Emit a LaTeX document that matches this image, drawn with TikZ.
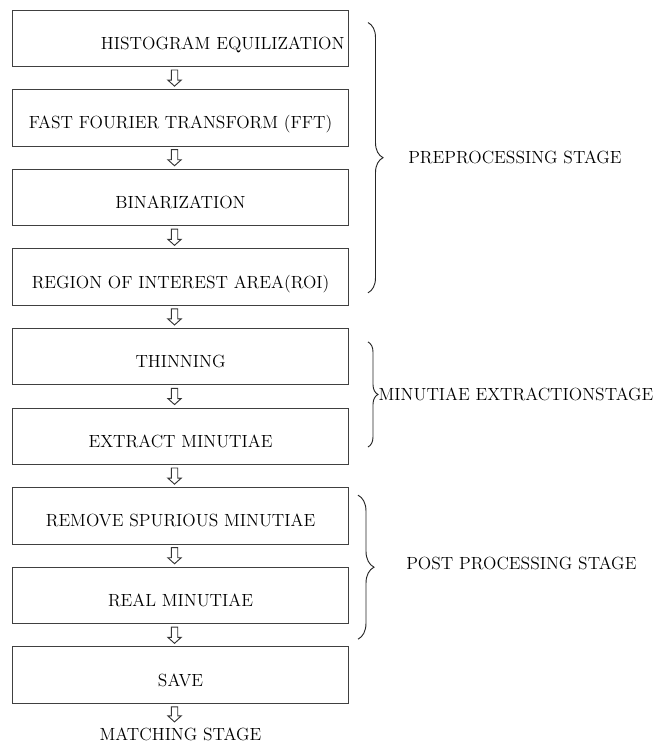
\documentclass[tikz,border=0pt]{standalone}
\usepackage{tikz}
\usetikzlibrary{positioning,calc,decorations.pathreplacing}
\tikzstyle{stage_box} = [draw=black!75,
						 line width=0.7pt,
						 minimum width=252pt,
						 minimum height=42.4pt,
						 text height=16.5pt,
						 text depth=0pt,
						 align=center,
						 font=\fontsize{13.2pt}{15pt}\selectfont]
\tikzstyle{stage_label} = [font=\fontsize{13.2pt}{15pt}\selectfont,
						   anchor=west,
						   inner sep=0pt]
\tikzstyle{stage_brace} = [draw=black!85,
						   line width=0.7pt,
						   decorate]
\tikzstyle{down_arrow} = [draw=black!80,
						  line width=0.7pt,
						  to path={let \p1=($(\tikztostart)+(-4.5pt,-2.25pt)$),
						               \p2=($(\tikztotarget)+(-4.5pt,2.25pt)$) in
						   (\x1-2.4pt,\y1) -- (\x1-2.4pt,\y2+4.5pt) -- (\x1-5pt,\y2+4.5pt)
						   -- (\x1,\y2) -- (\x1+5pt,\y2+4.5pt) -- (\x1+2.4pt,\y2+4.5pt)
						   -- (\x1+2.4pt,\y1) -- cycle}]

\begin{document}
\begin{tikzpicture}[node distance=16.6pt]
	\useasboundingbox (0,0) rectangle (500.25pt,-558pt);

	%%%%%%%%%%%%%%
	% PREPROCESS %
	%%%%%%%%%%%%%%
	\node[stage_box, text width=246pt, align=right, inner xsep=3pt] (hist) at (135.4pt,-28.7pt) {HISTOGRAM EQUILIZATION};
	\node[stage_box, below=of hist] (fft) {FAST FOURIER TRANSFORM (FFT)};
	\node[stage_box, below=of fft] (bin) {BINARIZATION};
	\node[stage_box, below=of bin] (roi) {REGION OF INTEREST AREA(ROI)};

	%%%%%%%%%%%%
	% MINUTIAE %
	%%%%%%%%%%%%
	\node[stage_box, below=of roi] (thin) {THINNING};
	\node[stage_box, below=of thin] (extract) {EXTRACT MINUTIAE};

	%%%%%%%%%%%%%%%%
	% POST PROCESS %
	%%%%%%%%%%%%%%%%
	\node[stage_box, below=of extract] (remove) {REMOVE SPURIOUS MINUTIAE};
	\node[stage_box, below=of remove] (real) {REAL MINUTIAE};
	\node[stage_box, below=of real] (save) {SAVE};
	\node[below=15.8pt of save, inner sep=2pt, font=\fontsize{13.2pt}{15pt}\selectfont] (matching) {MATCHING STAGE};

	% arrows
	\draw[down_arrow] (hist.south) to (fft.north);
	\draw[down_arrow] (fft.south) to (bin.north);
	\draw[down_arrow] (bin.south) to (roi.north);
	\draw[down_arrow] (roi.south) to (thin.north);
	\draw[down_arrow] (thin.south) to (extract.north);
	\draw[down_arrow] (extract.south) to (remove.north);
	\draw[down_arrow] (remove.south) to (real.north);
	\draw[down_arrow] (real.south) to (save.north);
	\draw[down_arrow] (save.south) to (matching.north);

	% braces
	\draw[stage_brace, decoration={brace, amplitude=11.25pt}]
		($(hist.north east)+(14.25pt,-9.75pt)$) coordinate (pre_top) --
		($(roi.south east)+(14.25pt,9.75pt)$) coordinate (pre_bot);
	\node[stage_label] (pre_lbl) at ($(pre_top)!0.5!(pre_bot)+(30pt,0)$) {PREPROCESSING STAGE};

	\draw[stage_brace, decoration={brace, amplitude=7.5pt}]
		($(thin.north east)+(14.25pt,-10.5pt)$) coordinate (min_top) --
		($(extract.south east)+(14.25pt,13.5pt)$) coordinate (min_bot);
	\node[stage_label] (min_lbl) at ($(min_top)!0.5!(min_bot)+(7.8pt,0)$) {MINUTIAE EXTRACTIONSTAGE};

	\draw[stage_brace, decoration={brace, amplitude=12pt}]
		($(remove.north east)+(6.75pt,-6pt)$) coordinate (post_top) --
		($(real.south east)+(6.75pt,-11.25pt)$) coordinate (post_bot);
	\node[stage_label] (post_lbl) at ($(post_top)!0.5!(post_bot)+(36pt,2.5pt)$) {POST PROCESSING STAGE};

\end{tikzpicture}
\end{document}
